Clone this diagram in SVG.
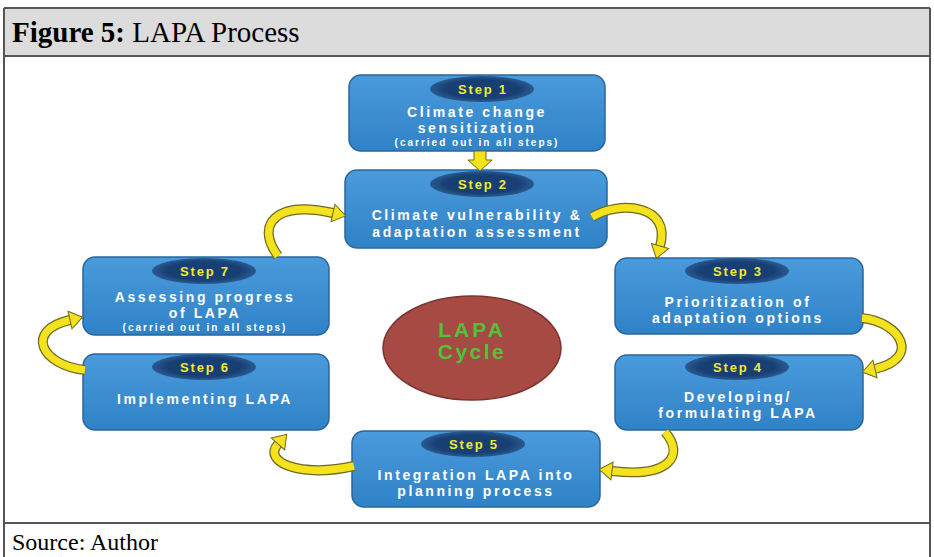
<svg xmlns="http://www.w3.org/2000/svg" width="934" height="557" viewBox="0 0 934 557">
<defs>
<linearGradient id="bx" x1="0" y1="0" x2="0" y2="1">
<stop offset="0" stop-color="#4a9bdc"/>
<stop offset="1" stop-color="#2f82c6"/>
</linearGradient>
<radialGradient id="ov" cx="0.5" cy="0.5" r="0.5">
<stop offset="0.7" stop-color="#173f73"/>
<stop offset="1" stop-color="#2a5a90"/>
</radialGradient>
<marker id="ah" markerWidth="20" markerHeight="24" refX="0" refY="12" orient="auto" markerUnits="userSpaceOnUse" overflow="visible">
<path d="M0,3 L13,12 L0,21 z" fill="#f3e21c" stroke="#6e6a22" stroke-width="1"/>
</marker>
<style>
.box{fill:url(#bx);stroke:#2a659c;stroke-width:1.5}
.ov{fill:url(#ov)}
.st{font-family:"Liberation Sans",Arial,sans-serif;font-weight:bold;font-size:13px;fill:#f2ea2a;text-anchor:middle;letter-spacing:1.8px}
.tx{font-family:"Liberation Sans",Arial,sans-serif;font-weight:bold;font-size:14px;fill:#ffffff;text-anchor:middle;letter-spacing:2.6px}
.sm{font-family:"Liberation Sans",Arial,sans-serif;font-weight:bold;font-size:10px;fill:#ffffff;text-anchor:middle;letter-spacing:2px}
.ao{fill:none;stroke:#6e6a22;stroke-width:10}
.ai{fill:none;stroke:#f3e21c;stroke-width:7.5;marker-end:url(#ah)}
.frame{fill:none;stroke:#555;stroke-width:2}
</style>
</defs>
<rect x="0" y="0" width="934" height="557" fill="#ffffff"/>
<g id="frame">
<rect x="4" y="8" width="926" height="48" fill="#dcdcdc"/>
<line class="frame" x1="4" y1="8" x2="930" y2="8"/>
<line class="frame" x1="4" y1="56" x2="930" y2="56"/>
<line class="frame" x1="4" y1="8" x2="4" y2="557"/>
<line class="frame" x1="930" y1="8" x2="930" y2="557"/>
<line class="frame" x1="4" y1="523" x2="930" y2="523"/>
<text x="12" y="42" font-family="'Liberation Serif','Times New Roman',serif" font-size="29" fill="#000"><tspan font-weight="bold">Figure 5:</tspan> LAPA Process</text>
<text x="12" y="550" font-family="'Liberation Serif','Times New Roman',serif" font-size="24" fill="#000">Source: Author</text>
</g>
<g id="center">
<ellipse cx="472" cy="348" rx="89" ry="52" fill="#a64a43" stroke="#7a3530" stroke-width="1.5"/>
<text x="472" y="337" font-family="'Liberation Sans',Arial,sans-serif" font-weight="bold" font-size="21" fill="#52c23a" text-anchor="middle" letter-spacing="3">LAPA</text>
<text x="472" y="359" font-family="'Liberation Sans',Arial,sans-serif" font-weight="bold" font-size="21" fill="#52c23a" text-anchor="middle" letter-spacing="2.5">Cycle</text>
</g>
<g id="step1">
<rect class="box" x="349" y="75" width="256" height="76" rx="12"/>
<ellipse class="ov" cx="482" cy="89" rx="52" ry="13"/>
<text class="st" x="483" y="94">Step 1</text>
<text class="tx" x="477" y="117">Climate change</text>
<text class="tx" x="477" y="133">sensitization</text>
<text class="sm" x="477" y="146">(carried out in all steps)</text>
</g>
<g id="step2">
<rect class="box" x="345" y="170" width="262" height="78" rx="12"/>
<ellipse class="ov" cx="482" cy="184" rx="52" ry="13"/>
<text class="st" x="483" y="189">Step 2</text>
<text class="tx" x="477" y="220">Climate vulnerability &amp;</text>
<text class="tx" x="477" y="237">adaptation assessment</text>
</g>
<g id="step3">
<rect class="box" x="615" y="258" width="248" height="76" rx="12"/>
<ellipse class="ov" cx="737" cy="271" rx="52" ry="13"/>
<text class="st" x="738" y="276">Step 3</text>
<text class="tx" x="738" y="307">Prioritization of</text>
<text class="tx" x="738" y="323">adaptation options</text>
</g>
<g id="step4">
<rect class="box" x="615" y="355" width="248" height="75" rx="12"/>
<ellipse class="ov" cx="737" cy="367" rx="52" ry="13"/>
<text class="st" x="738" y="372">Step 4</text>
<text class="tx" x="738" y="402">Developing/</text>
<text class="tx" x="738" y="418">formulating LAPA</text>
</g>
<g id="step5">
<rect class="box" x="352" y="431" width="248" height="76" rx="12"/>
<ellipse class="ov" cx="473" cy="444" rx="52" ry="13"/>
<text class="st" x="474" y="449">Step 5</text>
<text class="tx" x="476" y="480">Integration LAPA into</text>
<text class="tx" x="476" y="496">planning process</text>
</g>
<g id="step6">
<rect class="box" x="83" y="354" width="246" height="76" rx="12"/>
<ellipse class="ov" cx="204" cy="367" rx="52" ry="13"/>
<text class="st" x="205" y="372">Step 6</text>
<text class="tx" x="205" y="404">Implementing LAPA</text>
</g>
<g id="step7">
<rect class="box" x="83" y="257" width="246" height="78" rx="12"/>
<ellipse class="ov" cx="204" cy="271" rx="52" ry="13"/>
<text class="st" x="205" y="276">Step 7</text>
<text class="tx" x="205" y="302">Assessing progress</text>
<text class="tx" x="205" y="318">of LAPA</text>
<text class="sm" x="205" y="331">(carried out in all steps)</text>
</g>
<g id="connectors">
<path d="M474,151 L486,151 L486,160 L492,160 L480,171 L468,160 L474,160 z" fill="#f3e21c" stroke="#6e6a22" stroke-width="1"/>
<path class="ao" d="M592,217 C620,200 672,205 660,246"/>
<path class="ai" d="M592,217 C620,200 672,205 660,246"/>
<path class="ao" d="M862,318 C900,322 922,358 875,369"/>
<path class="ai" d="M862,318 C900,322 922,358 875,369"/>
<path class="ao" d="M665,432 C685,455 670,478 612,471"/>
<path class="ai" d="M665,432 C685,455 670,478 612,471"/>
<path class="ao" d="M354,466 C300,478 262,462 278,444"/>
<path class="ai" d="M354,466 C300,478 262,462 278,444"/>
<path class="ao" d="M85,370 C40,365 25,330 70,320"/>
<path class="ai" d="M85,370 C40,365 25,330 70,320"/>
<path class="ao" d="M278,256 C255,225 275,200 333,213"/>
<path class="ai" d="M278,256 C255,225 275,200 333,213"/>
</g>
</svg>
